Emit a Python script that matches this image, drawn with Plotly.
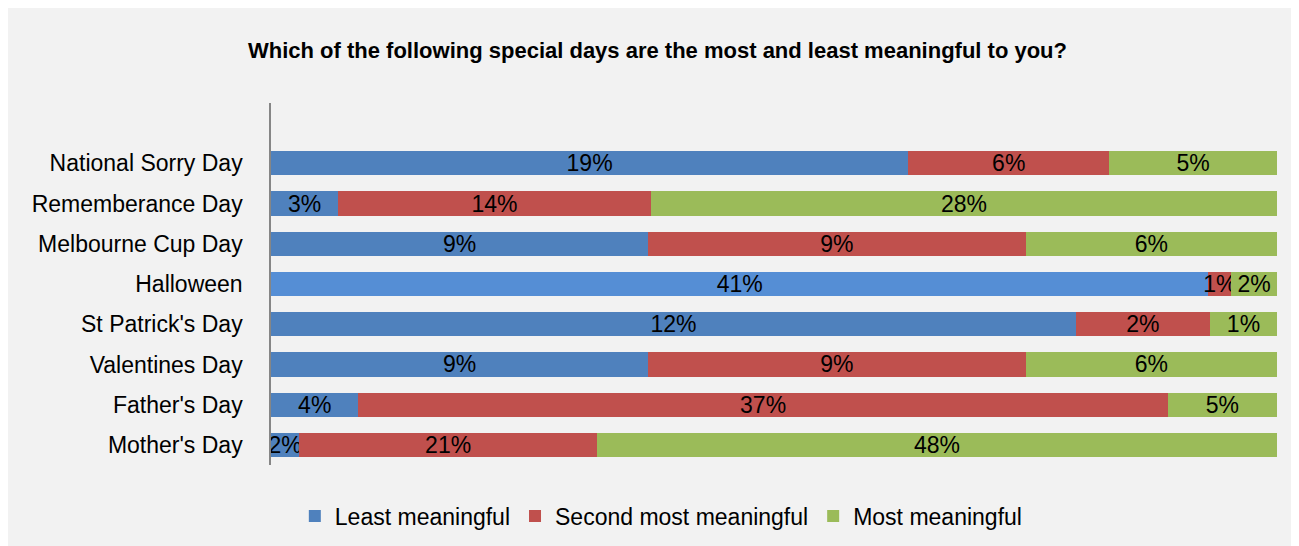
import plotly.graph_objects as go

categories = ["Mother's Day", "Father's Day", "Valentines Day", "St Patrick's Day",
              "Halloween", "Melbourne Cup Day", "Rememberance Day", "National Sorry Day"]
least = [2, 4, 9, 12, 41, 9, 3, 19]
second = [21, 37, 9, 2, 1, 9, 14, 6]
most = [48, 5, 6, 1, 2, 6, 28, 5]

BLUE = "#4F81BD"
BLUE_HL = "#558ED5"
RED = "#C0504D"
GREEN = "#9BBB59"
FONT = "Liberation Sans, Arial, sans-serif"

blue_colors = [BLUE_HL if c == "Halloween" else BLUE for c in categories]

fig = go.Figure()
series = [("Least meaningful", least, blue_colors),
          ("Second most meaningful", second, RED),
          ("Most meaningful", most, GREEN)]
for name, vals, col in series:
    fig.add_trace(go.Bar(
        y=categories, x=vals, name=name, orientation="h",
        marker=dict(color=col, line=dict(width=0)),
        text=[f"{v}%" for v in vals],
        textposition="inside", insidetextanchor="middle",
        textangle=0, constraintext="none",
        textfont=dict(family=FONT, size=23, color="black"),
        width=0.6, hoverinfo="skip",
    ))

W, H = 1299, 546
L, T = 263, 95
R = W - 1269
B = H - 457
pw = W - L - R
ph = H - T - B

fig.update_layout(
    width=W, height=H,
    barmode="stack", barnorm="percent",
    paper_bgcolor="#F2F2F2", plot_bgcolor="#F2F2F2",
    margin=dict(l=L, r=R, t=T, b=B),
    title=dict(text="<b>Which of the following special days are the most and least meaningful to you?</b>",
               x=0.5, xanchor="center", y=1 - 42 / H, yanchor="middle",
               font=dict(family=FONT, size=22, color="black")),
    xaxis=dict(range=[0, 100], showgrid=False, showticklabels=False, zeroline=False,
               showline=False, ticks=""),
    yaxis=dict(type="category", categoryorder="array", categoryarray=categories,
               range=[-0.5, 8.5], showgrid=False, showline=True, linecolor="#868686",
               linewidth=1.5, ticks="", ticklen=0, ticklabelstandoff=22,
               tickfont=dict(family=FONT, size=23, color="black")),
    legend=dict(orientation="h", x=0.388, xanchor="center", y=-(508 - 457) / ph,
                yanchor="middle", font=dict(family=FONT, size=23, color="black"),
                bgcolor="rgba(0,0,0,0)", traceorder="normal"),
    showlegend=True,
)

fig.write_html("out.html")
